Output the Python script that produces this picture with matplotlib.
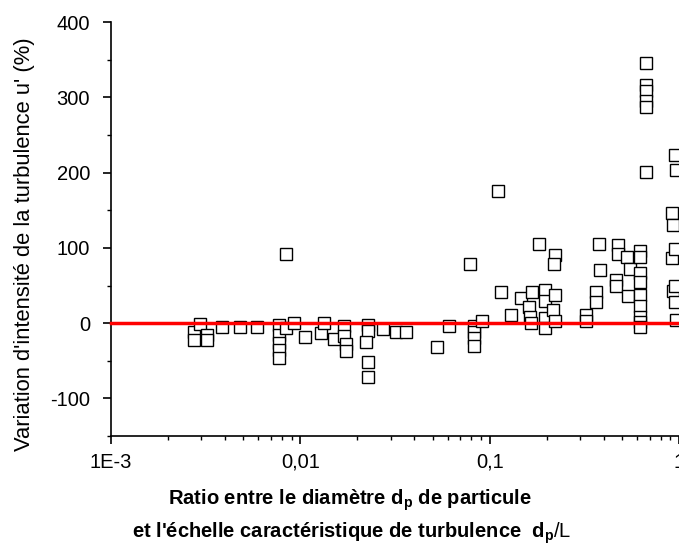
'''
    Variation of turbulence intensity against particle size ratio dp/L
'''

# - Imports

import matplotlib
matplotlib.use("Agg")
import matplotlib.pyplot as plt
from matplotlib.ticker import LogLocator, FixedLocator, MultipleLocator, NullFormatter

# - Data

ratio = [
    0.00276, 0.00276, 0.00295, 0.0032, 0.0032,
    0.00385, 0.0048, 0.0059,
    0.00767, 0.00767, 0.00767, 0.00767, 0.00767,
    0.0084, 0.0084, 0.00924, 0.0106,
    0.0128, 0.0134, 0.0151,
    0.0171, 0.0171, 0.0175, 0.0175,
    0.0227, 0.0227, 0.0223, 0.0227, 0.0227,
    0.0274, 0.0321, 0.0361,
    0.053, 0.0611,
    0.079,
    0.083, 0.083, 0.083, 0.083,
    0.0907, 0.111, 0.115, 0.130,
    0.147, 0.167, 0.162, 0.163, 0.165,
    0.183, 0.197, 0.197, 0.195, 0.195,
    0.221, 0.219, 0.22, 0.215, 0.22,
    0.321, 0.321, 0.364, 0.364, 0.377, 0.383,
    0.476, 0.476, 0.466, 0.466, 0.53, 0.54, 0.554,
    0.624, 0.624, 0.624, 0.624, 0.624, 0.624, 0.624, 0.624, 0.624,
    0.668, 0.668, 0.668, 0.672, 0.672, 0.668,
    0.914, 0.93, 0.955, 0.97, 0.92, 0.95, 0.93, 0.95, 0.95, 0.97,
]

variation = [
    -12, -22, -1, -16, -22,
    -5, -5, -5,
    -2, -16, -26, -36, -46,
    -6, 92, 0, -18,
    -13, 0, -21,
    -4, -17, -28, -37,
    -2, -10, -25, -52, -72,
    -8, -12, -12,
    -32, -4,
    78,
    -4, -12, -20, -30,
    3, 175, 41, 11,
    33, 41, 22, 8, 0,
    105, 44, 29, 7, -6,
    90, 79, 37, 17, 3,
    11, 3, 42, 28, 105, 71,
    104, 92, 57, 49, 88, 36, 72,
    96, 88, 66, 55, 38, 23, 8, 2, -5,
    345, 316, 308, 295, 287, 201,
    146, 131, 224, 203, 87, 98, 43, 50, 28, 4,
]

x_ticks = [1e-3, 1e-2, 1e-1, 1]
x_tick_labels = ["1E-3", "0,01", "0,1", "1"]
y_ticks = [-100, 0, 100, 200, 300, 400]

# - Main

def main():
    '''Main'''

    plt.rcParams["font.family"] = ["Liberation Sans", "DejaVu Sans"]
    plt.rcParams["mathtext.fontset"] = "custom"
    plt.rcParams["mathtext.rm"] = "Liberation Sans"
    plt.rcParams["mathtext.bf"] = "Liberation Sans:bold"
    plt.rcParams["axes.unicode_minus"] = False

    fig = plt.figure(figsize=(6.79, 5.52), dpi=100)
    axes = fig.add_axes([0.1635, 0.21, 1.0 - 0.1635, 0.75])

    # Measured points
    axes.plot(ratio, variation, linestyle="none", marker="s", markersize=8.2,
              markerfacecolor="white", markeredgecolor="black", markeredgewidth=1.0,
              clip_on=False, zorder=2)

    # Zero line
    axes.plot([1e-3, 1], [0, 0], color="red", linewidth=2.5, zorder=3, clip_on=False)

    axes.set_xscale("log")
    axes.set_xlim(1e-3, 1)
    axes.set_ylim(-150, 400)

    axes.xaxis.set_major_locator(FixedLocator(x_ticks))
    axes.set_xticklabels(x_tick_labels)
    axes.xaxis.set_minor_locator(LogLocator(base=10, subs=range(2, 10)))
    axes.xaxis.set_minor_formatter(NullFormatter())

    axes.yaxis.set_major_locator(FixedLocator(y_ticks))
    axes.yaxis.set_minor_locator(MultipleLocator(50))

    for side in ["top", "right"]:
        axes.spines[side].set_visible(False)
    for side in ["left", "bottom"]:
        axes.spines[side].set_linewidth(1.2)

    axes.tick_params(which="major", direction="out", length=6, width=1.2, labelsize=14.5)
    axes.tick_params(axis="x", which="major", pad=6)
    axes.tick_params(axis="y", which="major", pad=9)
    axes.tick_params(which="minor", direction="out", length=3, width=1.0)

    # Axis titles
    fig.text(0.036, 0.558, "Variation d'intensité de la turbulence u' (%)",
             rotation=90, ha="center", va="center", fontsize=15.8)
    fig.text(0.516, 0.085, r"Ratio entre le diamètre d$_\mathbf{p}$ de particule",
             ha="center", va="baseline", fontsize=14.5, fontweight="bold")
    fig.text(0.518, 0.025, r"et l'échelle caractéristique de turbulence  d$_\mathbf{p}\mathrm{/L}$",
             ha="center", va="baseline", fontsize=14.5, fontweight="bold")

    fig.savefig("out.png", dpi=100)


if __name__ == "__main__":
    main()
